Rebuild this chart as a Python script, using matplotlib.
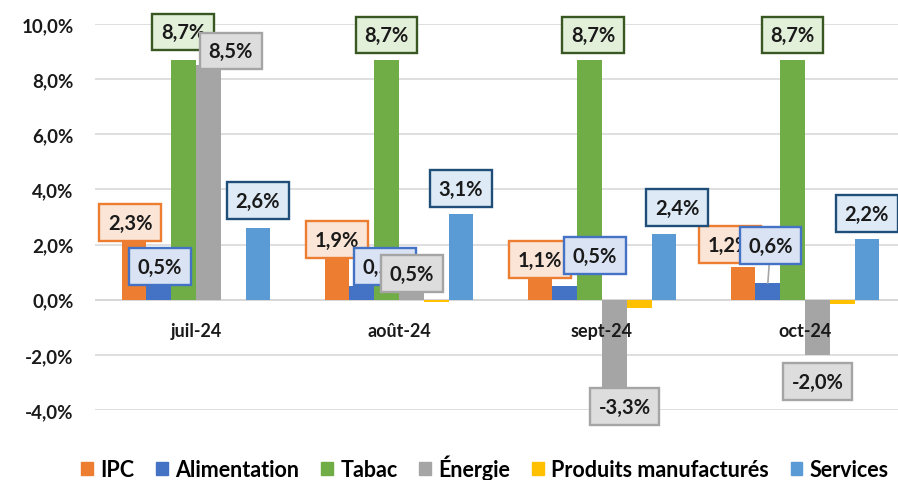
import matplotlib
matplotlib.use('Agg')
import matplotlib.pyplot as plt
from matplotlib.patches import Patch

plt.rcParams['font.family'] = ['Lato', 'DejaVu Sans']
plt.rcParams['font.weight'] = 'bold'

# données (variation sur un an, en %)
mois = ['juil-24', 'août-24', 'sept-24', 'oct-24']
ipc = [2.3, 1.9, 1.1, 1.2]
alimentation = [0.5, 0.5, 0.5, 0.6]
tabac = [8.7, 8.7, 8.7, 8.7]
energie = [8.5, 0.5, -3.3, -2.0]
produits = [0.0, -0.1, -0.3, -0.15]
services = [2.6, 3.1, 2.4, 2.2]

noms = ['IPC', 'Alimentation', 'Tabac', 'Énergie', 'Produits manufacturés', 'Services']
valeurs = [ipc, alimentation, tabac, energie, produits, services]
couleurs = ['#ED7D31', '#4472C4', '#70AD47', '#A5A5A5', '#FFC000', '#5B9BD5']

# style des étiquettes : (fond, bordure) ; None = pas d'étiquette
boites = [('#FBE5D6', '#ED7D31'), ('#DAE3F3', '#4472C4'), ('#E2F0D9', '#385723'),
          ('#DDDDDD', '#A5A5A5'), None, ('#DEEBF7', '#1F4E79')]
# décalage des étiquettes par rapport au haut de la barre (dx en catégorie, dy en %)
decalages = [
    [(-0.02, 0.49), (0.0, 0.27), (0.0, 0.35), (-0.065, 0.79)],
    [(0.006, 0.70), (0.114, 0.70), (0.149, 1.09), (0.013, 1.36)],
    [(-0.003, 1.01), (0.0, 0.90), (0.017, 0.90), (0.0, 0.90)],
    [(0.111, 0.52), (0.003, 0.44), (0.052, -0.58), (0.0, -0.97)],
    None,
    [(0.0, 0.99), (0.0, 0.92), (0.065, 0.93), (0.0, 0.92)],
]

largeur = 0.122
x = list(range(len(mois)))

fig = plt.figure(figsize=(8.98, 4.81), dpi=100)
ax = fig.add_axes([94.5 / 898, 70 / 481, 1 - 94.5 / 898, 386 / 481])

for j, (nom, vals, coul) in enumerate(zip(noms, valeurs, couleurs)):
    pos = [i + (j - 2.5) * largeur for i in x]
    ax.bar(pos, vals, largeur, color=coul, label=nom, zorder=2)

# étiquettes de données
for j, vals in enumerate(valeurs):
    if boites[j] is None:
        continue
    fond, bord = boites[j]
    for i, v in enumerate(vals):
        bx = i + (j - 2.5) * largeur
        dx, dy = decalages[j][i]
        txt = f'{v:.1f}%'.replace('.', ',')
        fleche = None
        if j == 1 and i == 3:
            fleche = dict(arrowstyle='-', color='#A6A6A6', lw=1.2, shrinkA=0, shrinkB=0)
        ax.annotate(txt, xy=(bx, v), xytext=(bx + dx, v + dy), textcoords='data',
                    ha='center', va='center', fontsize=14.5, fontweight='bold',
                    color='#1A1A1A', zorder=5 + j, arrowprops=fleche,
                    bbox=dict(boxstyle='square,pad=0.42', fc=fond, ec=bord, lw=1.7))

# libellés des mois sous l'axe
for i, m in enumerate(mois):
    ax.annotate(m, xy=(i, 0), xytext=(0, -22), textcoords='offset points',
                ha='center', va='center', fontsize=13, fontweight='bold',
                color='#1A1A1A', zorder=4)

ax.set_xlim(-0.5, (898 - 196) / 203)
ax.set_ylim(-4, 10)
ax.set_xticks([])
yt = list(range(-4, 11, 2))
ax.set_yticks(yt)
ax.set_yticklabels([f'{v:.1f}%'.replace('.', ',') for v in yt], fontsize=13.5,
                   fontweight='bold', color='#1A1A1A')
ax.tick_params(axis='y', length=0, pad=15)
ax.yaxis.grid(True, color='#D9D9D9', lw=1.2, zorder=0)
ax.axhline(0, color='#C8C8C8', lw=1.2, zorder=1)
for s in ax.spines.values():
    s.set_visible(False)

poignees = [Patch(color=c, label=n) for n, c in zip(noms, couleurs)]
fig.legend(handles=poignees, loc='center', bbox_to_anchor=(485 / 898, 1 - 468 / 481),
           ncol=6, frameon=False, handlelength=0.55, handleheight=0.55,
           handletextpad=0.35, columnspacing=1.0,
           prop={'weight': 'bold', 'size': 15.5})

fig.savefig('out.png', dpi=100)
